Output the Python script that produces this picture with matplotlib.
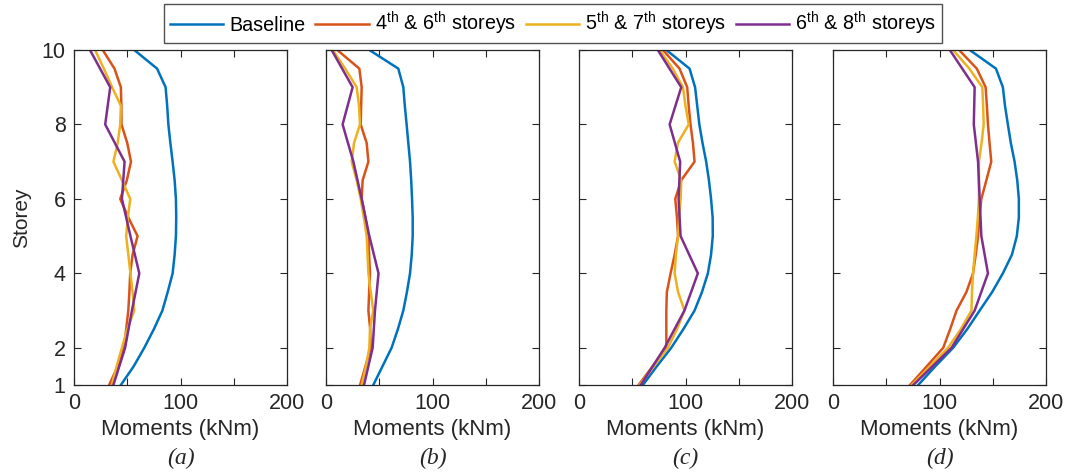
import matplotlib
matplotlib.use('Agg')
from matplotlib import pyplot as plt

plt.rcParams['font.family'] = ['Liberation Sans', 'DejaVu Sans']
plt.rcParams['mathtext.fontset'] = 'custom'
plt.rcParams['mathtext.rm'] = 'Liberation Sans'

# storey levels
storeys_half = [1, 1.5, 2, 2.5, 3, 3.5, 4, 4.5, 5, 5.5, 6, 6.5, 7, 7.5, 8, 8.5, 9, 9.5, 10]
storeys_int = [1, 2, 3, 4, 5, 6, 7, 8, 9, 10]

# (a)
base_a = [44, 56, 66, 75, 83, 88, 92.6, 94.5, 95.7, 96, 95.7, 94.5, 92.6, 90.5, 88.6, 87.5, 86, 78, 56.6]
s46_a = [33, 41, 47, 49, 51, 52, 52.8, 55, 59.7, 51, 43.4, 49.6, 53.5, 50, 44.6, 44.5, 44, 38, 27]
s57_a = [35.5, 40, 45, 50, 56.6, 55, 53, 51, 49, 50.6, 52.8, 45, 37, 41, 43.4, 44, 35.8, 28, 19.8]
s68_a = [37, 48, 54.4, 61.3, 53, 45, 47.5, 29.3, 34, 15]

# (b)
base_b = [44.4, 53, 61.6, 67.5, 72.6, 76, 78.9, 80.5, 81.4, 81.4, 80.8, 80, 78.9, 77.3, 75.7, 74, 72.6, 67.9, 40.7]
s46_b = [32, 37, 42, 41.5, 39.8, 40.5, 41.3, 40.5, 39.8, 37, 33.5, 34.4, 39.8, 38.2, 32.6, 33, 33.5, 31.3, 10.6]
s57_b = [33.5, 37.5, 40.7, 41.3, 44.4, 42, 39.8, 39, 38.2, 35.5, 32.6, 28.8, 24.1, 26.3, 31.9, 31, 28.8, 18, 6.3]
s68_b = [35.7, 43.8, 46, 49.3, 40.7, 33.5, 25.7, 15.6, 25, 5.3]

# (c)
base_c = [60, 73, 86.6, 98, 108.5, 115.5, 121, 124, 125.6, 125.5, 124, 122, 119.4, 116, 113, 111, 109, 103.8, 82]
s46_c = [56, 69, 82, 82, 82, 82.5, 86, 89.8, 93, 92, 90.4, 96, 108.5, 107, 104.7, 103, 101.6, 94.4, 78.8]
s57_c = [57, 70, 83.5, 92, 99, 93, 89.8, 91, 93, 94, 95.4, 96, 89.8, 92.8, 103, 100, 97.6, 88, 75.7]
s68_c = [58, 80.4, 99, 111.6, 95.4, 93.5, 95, 85.1, 96, 74]

# (d)
base_d = [80, 96, 112.8, 126, 137.7, 149.5, 159.5, 168, 172.6, 174.5, 174.5, 173, 170.5, 167, 164.2, 161.5, 159.5, 153, 128.4]
s46_d = [72.3, 88, 103.5, 110, 116, 125.3, 131.5, 134, 136.2, 137.5, 139.3, 144, 148.6, 147, 145.5, 144.5, 143.3, 135, 118.4]
s57_d = [73.8, 91, 108, 120, 130, 130.5, 131.5, 133, 134.6, 136, 137, 137, 137, 139.5, 141.5, 141, 140.2, 128, 112.8]
s68_d = [75.4, 111.3, 133, 145.5, 139.3, 137.7, 136.2, 132.2, 133, 109.7]

panels = [
    ('(a)', base_a, s46_a, s57_a, s68_a),
    ('(b)', base_b, s46_b, s57_b, s68_b),
    ('(c)', base_c, s46_c, s57_c, s68_c),
    ('(d)', base_d, s46_d, s57_d, s68_d),
]

labels = ['Baseline', r'4$^{\rm th}$ & 6$^{\rm th}$ storeys',
          r'5$^{\rm th}$ & 7$^{\rm th}$ storeys', r'6$^{\rm th}$ & 8$^{\rm th}$ storeys']
colors = ['#0072BD', '#D95319', '#EDB120', '#7E2F8E']

fig = plt.figure(figsize=(10.7, 4.72), dpi=100)
lefts = [74, 326, 579, 833]
for i, (tag, base, s46, s57, s68) in enumerate(panels):
    ax = fig.add_axes([lefts[i] / 1070, 87 / 472, 213 / 1070, 335 / 472])
    l1, = ax.plot(base, storeys_half, color=colors[0], lw=1.8)
    l2, = ax.plot(s46, storeys_half, color=colors[1], lw=1.8)
    l3, = ax.plot(s57, storeys_half, color=colors[2], lw=1.8)
    l4, = ax.plot(s68, storeys_int, color=colors[3], lw=1.8)
    ax.set_xlim(0, 200)
    ax.set_ylim(1, 10)
    ax.set_xticks([0, 50, 100, 150, 200])
    ax.set_xticklabels(['0', '', '100', '', '200'])
    ax.set_yticks([1, 2, 4, 6, 8, 10])
    ax.tick_params(direction='in', top=True, right=True, labelsize=15.5, length=5,
                   color='#262626', labelcolor='#262626', pad=6)
    if i > 0:
        ax.set_yticklabels([])
    else:
        ax.set_ylabel('Storey', fontsize=15, color='#262626', labelpad=8)
    for sp in ax.spines.values():
        sp.set_color('#262626')
        sp.set_linewidth(0.9)
    ax.set_xlabel('Moments (kNm)', fontsize=16, color='#262626', labelpad=3)
    ax.text(0.5, -0.22, tag, transform=ax.transAxes, ha='center', va='center',
            fontsize=17, style='italic', family='Liberation Serif', color='#262626')

fig.legend([l1, l2, l3, l4], labels, loc='center', bbox_to_anchor=(0.517, 0.95),
           ncol=4, fontsize=14.2, frameon=True, fancybox=False, edgecolor='#262626',
           handlelength=2.7, handletextpad=0.3, columnspacing=0.5, borderpad=0.3,
           borderaxespad=0)

fig.savefig('out.png', dpi=100)
